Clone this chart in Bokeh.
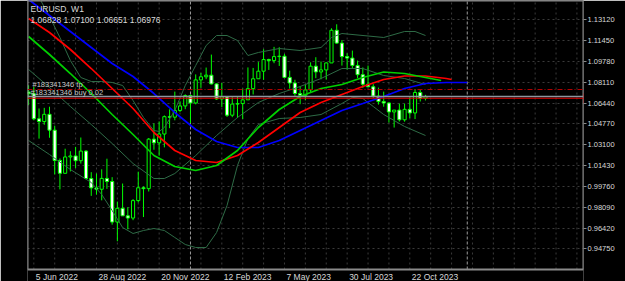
from bokeh.plotting import figure
from bokeh.models import (Range1d, FixedTicker, Span, Label,
                          ColumnDataSource, PrintfTickFormatter)
from bokeh.embed import file_html
from bokeh.resources import INLINE
from bokeh.core.properties import value

# ---- weekly EURUSD candles, week 0 = 29 May 2022 ... week 76 = 12 Nov 2023 ----
open_ = [1.0733, 1.0719, 1.0518, 1.0496, 1.0554, 1.0427, 1.0184, 1.0081, 1.0212, 1.0220,
         1.0182, 1.0259, 1.0039, 0.9964, 0.9953, 1.0040, 1.0015, 0.9690, 0.9800, 0.9740,
         0.9722, 0.9862, 0.9965, 0.9958, 1.0355, 1.0325, 1.0396, 1.0535, 1.0531, 1.0585,
         1.0621, 1.0705, 1.0645, 1.0830, 1.0855, 1.0868, 1.0798, 1.0677, 1.0694, 1.0547,
         1.0636, 1.0640, 1.0670, 1.0760, 1.0839, 1.0900, 1.0993, 1.0985, 1.1017, 1.1020,
         1.0850, 1.0805, 1.0721, 1.0707, 1.0750, 1.0940, 1.0894, 1.0910, 1.0966, 1.1228,
         1.1125, 1.1017, 1.1005, 1.0946, 1.0872, 1.0795, 1.0775, 1.0700, 1.0656, 1.0645,
         1.0573, 1.0588, 1.0510, 1.0594, 1.0565, 1.0729, 1.06828]
high = [1.0787, 1.0774, 1.0601, 1.0606, 1.0615, 1.0463, 1.0200, 1.0278, 1.0258, 1.0293,
        1.0368, 1.0267, 1.0090, 1.0079, 1.0113, 1.0198, 1.0050, 0.9854, 0.9999, 0.9809,
        0.9874, 1.0094, 0.9976, 1.0364, 1.0481, 1.0497, 1.0545, 1.0594, 1.0736, 1.0658,
        1.0714, 1.0713, 1.0874, 1.0887, 1.0929, 1.1033, 1.0804, 1.0806, 1.0694, 1.0691,
        1.0700, 1.0760, 1.0930, 1.0926, 1.0973, 1.1076, 1.1000, 1.1095, 1.1092, 1.1038,
        1.0904, 1.0831, 1.0780, 1.0790, 1.0971, 1.1012, 1.0977, 1.0970, 1.1244, 1.1276,
        1.1150, 1.1043, 1.1065, 1.0985, 1.0930, 1.0945, 1.0796, 1.0768, 1.0736, 1.0650,
        1.0588, 1.0640, 1.0640, 1.0695, 1.0756, 1.0755, 1.07100]
low = [1.0627, 1.0506, 1.0359, 1.0470, 1.0366, 1.0072, 0.9952, 1.0080, 1.0096, 1.0123,
       1.0159, 1.0034, 0.9900, 0.9910, 0.9864, 0.9956, 0.9669, 0.9536, 0.9740, 0.9632,
       0.9705, 0.9847, 0.9730, 0.9935, 1.0270, 1.0222, 1.0289, 1.0443, 1.0506, 1.0573,
       1.0595, 1.0483, 1.0634, 1.0767, 1.0836, 1.0793, 1.0669, 1.0613, 1.0533, 1.0531,
       1.0524, 1.0516, 1.0670, 1.0713, 1.0839, 1.0830, 1.0910, 1.0964, 1.0942, 1.0848,
       1.0760, 1.0702, 1.0635, 1.0666, 1.0730, 1.0844, 1.0835, 1.0833, 1.0966, 1.1120,
       1.0945, 1.0912, 1.0925, 1.0845, 1.0766, 1.0771, 1.0686, 1.0632, 1.0615, 1.0488,
       1.0448, 1.0496, 1.0495, 1.0523, 1.0516, 1.0657, 1.06651]
close = [1.0719, 1.0518, 1.0496, 1.0554, 1.0427, 1.0184, 1.0081, 1.0212, 1.0220, 1.0182,
         1.0259, 1.0039, 0.9964, 0.9953, 1.0040, 1.0015, 0.9690, 0.9800, 0.9740, 0.9722,
         0.9862, 0.9965, 0.9958, 1.0355, 1.0325, 1.0396, 1.0535, 1.0531, 1.0585, 1.0621,
         1.0705, 1.0645, 1.0830, 1.0855, 1.0868, 1.0798, 1.0677, 1.0694, 1.0547, 1.0636,
         1.0640, 1.0670, 1.0760, 1.0839, 1.0900, 1.0993, 1.0985, 1.1017, 1.1020, 1.0850,
         1.0805, 1.0721, 1.0707, 1.0750, 1.0940, 1.0894, 1.0910, 1.0966, 1.1228, 1.1125,
         1.1017, 1.1005, 1.0946, 1.0872, 1.0795, 1.0775, 1.0700, 1.0656, 1.0645, 1.0573,
         1.0588, 1.0510, 1.0594, 1.0565, 1.0729, 1.0683, 1.06976]
week = list(range(len(close)))

# ---- axis ticks ----
x_tick_weeks = [1, 13, 25, 37, 49, 61, 73]
x_tick_labels = ["5 Jun 2022", "28 Aug 2022", "20 Nov 2022", "12 Feb 2023",
                 "7 May 2023", "30 Jul 2023", "22 Oct 2023"]
y_ticks = [1.1312, 1.1145, 1.0978, 1.0811, 1.0644, 1.0477, 1.0310, 1.0143,
           0.9976, 0.9809, 0.9642, 0.9475]
grid_weeks = [1, 5, 9, 13, 17, 21, 25, 29, 33, 37, 41, 45, 49, 53, 57, 61, 65, 69,
              73, 77, 81, 85, 89, 93, 97, 101, 105]
year_sep_weeks = [31, 84]

# ---- indicator lines ----
jaw_x = [0, 4, 8, 12, 16, 20, 24, 28, 32, 36, 40, 44, 48, 52, 56, 60, 64, 68, 72, 76, 80, 84]
jaw_y = [1.1475, 1.13465, 1.12182, 1.10899, 1.09615, 1.08573, 1.07209, 1.05686, 1.04322,
         1.0336, 1.02879, 1.02879, 1.0344, 1.04242, 1.05044, 1.05846, 1.06407, 1.06969,
         1.0761, 1.08011, 1.08092, 1.08092]
teeth_x = [0, 4, 8, 12, 16, 20, 24, 28, 32, 36, 40, 44, 48, 52, 56, 60, 64, 68, 72, 76, 80, 81]
teeth_y = [1.13224, 1.12102, 1.10738, 1.09214, 1.0761, 1.06006, 1.04082, 1.02638, 1.01836,
           1.01676, 1.02237, 1.0328, 1.04483, 1.05686, 1.06488, 1.07129, 1.07771, 1.08332,
           1.08613, 1.08613, 1.08412, 1.08332]
lips_x = [0, 4, 8, 12, 16, 20, 24, 28, 32, 36, 40, 44, 48, 52, 56, 60, 64, 68, 72, 76, 79]
lips_y = [1.11781, 1.10337, 1.08813, 1.07209, 1.05525, 1.03921, 1.02237, 1.01355, 1.01034,
          1.01435, 1.02638, 1.04483, 1.05926, 1.06969, 1.0761, 1.07931, 1.08493, 1.08934,
          1.08813, 1.08493, 1.08252]
bb_up_x = [0, 2, 4, 6, 8, 10, 12, 14, 16, 18, 20, 22, 24, 25, 26, 28, 30, 32, 34, 36, 38,
           40, 42, 44, 48, 52, 56, 58, 60, 68, 72, 74, 76]
bb_up_y = [1.16432, 1.14909, 1.13385, 1.11701, 1.09856, 1.08493, 1.08172, 1.08172, 1.08092,
           1.07851, 1.06648, 1.05285, 1.04242, 1.04162, 1.04483, 1.05846, 1.07851, 1.09455,
           1.11059, 1.11861, 1.11861, 1.1146, 1.10257, 1.10498, 1.10818, 1.10658, 1.10899,
           1.11701, 1.12021, 1.11701, 1.12182, 1.12182, 1.11861]
bb_mid_x = [0, 4, 8, 12, 16, 20, 24, 26, 28, 32, 36, 40, 44, 48, 52, 56, 60, 64, 68, 72, 76]
bb_mid_y = [1.09134, 1.07691, 1.06167, 1.04723, 1.03199, 1.01595, 1.00392, 1.00392, 1.00793,
            1.02237, 1.03841, 1.05285, 1.06488, 1.07209, 1.07771, 1.08412, 1.09214, 1.09214,
            1.08653, 1.08412, 1.07931]
bb_lo_x = [0, 4, 8, 12, 14, 16, 18, 20, 22, 24, 26, 28, 30, 32, 34, 36, 38, 40, 42, 44, 48,
           52, 56, 60, 62, 64, 66, 68, 72, 76]
bb_lo_y = [1.0344, 1.02317, 1.01114, 1.00072, 0.99109, 0.97826, 0.96463, 0.95981, 0.96222,
           0.96382, 0.96222, 0.95661, 0.95099, 0.94859, 0.94859, 0.96062, 0.98227, 1.01435,
           1.036, 1.04723, 1.05204, 1.05285, 1.05525, 1.06407, 1.06889, 1.06808, 1.06167,
           1.05525, 1.04563, 1.03841]

# ---- trade levels ----
bid_price = 1.06976
order_price = 1.06828
tp_price = 1.0753
order_id = "#183341346"
header_symbol = "EURUSD, W1"

# chart window: price panel bottom edge (border line) and canvas bottom
X0, X1 = -0.21, 106.26
Y_TOP = 1.14668
Y_PANEL_BOTTOM = 0.93094
Y_CANVAS_BOTTOM = 0.92132
FONT = "Liberation Sans"
TXT = "#d9d9d9"
GRID = "#3a3a3a"
BORDER = "#8a8a8a"

p = figure(width=625, height=281, x_range=Range1d(X0, X1),
           y_range=Range1d(Y_CANVAS_BOTTOM, Y_TOP),
           output_backend="svg", toolbar_location=None,
           x_axis_location=None, y_axis_location="right",
           min_border_left=27, min_border_right=42, min_border_top=0, min_border_bottom=0,
           background_fill_color="black", border_fill_color="black",
           outline_line_color=None)

ax = p.yaxis[0]
ax.ticker = FixedTicker(ticks=y_ticks)
ax.formatter = PrintfTickFormatter(format="%.5f")
ax.major_label_text_color = TXT
ax.major_label_text_font = FONT
ax.major_label_text_font_size = "7.5px"
ax.axis_line_color = None
ax.major_tick_line_color = BORDER
ax.major_tick_out = 3
ax.major_tick_in = 0
ax.minor_tick_out = 0
ax.minor_tick_in = 0
ax.major_label_standoff = 1

p.ygrid.grid_line_color = GRID
p.ygrid.grid_line_dash = "2 3"
p.xgrid.visible = False

# vertical grid and year separators, stopping at the panel bottom
p.segment(x0=grid_weeks, y0=Y_PANEL_BOTTOM, x1=grid_weeks, y1=Y_TOP,
          line_color=GRID, line_dash="2 3", line_width=1)
p.segment(x0=year_sep_weeks, y0=Y_PANEL_BOTTOM, x1=year_sep_weeks, y1=Y_TOP,
          line_color="#9a9a9a", line_dash="3 2", line_width=1)

# candles
body_top = [max(o, c) for o, c in zip(open_, close)]
body_bot = [min(o, c) for o, c in zip(open_, close)]
fills = ["black" if c >= o else "white" for o, c in zip(open_, close)]
src = ColumnDataSource(dict(week=week, high=high, low=low, top=body_top,
                            bottom=body_bot, fill=fills))
p.segment(x0="week", y0="low", x1="week", y1="high", source=src,
          line_color="#00ff00", line_width=1)
p.vbar(x="week", width=0.6, top="top", bottom="bottom", source=src,
       fill_color="fill", line_color="#00ff00", line_width=1)

# Bollinger bands
BB = "#2e6b46"
p.line(bb_up_x, bb_up_y, line_color=BB, line_width=1)
p.line(bb_mid_x, bb_mid_y, line_color=BB, line_width=1)
p.line(bb_lo_x, bb_lo_y, line_color=BB, line_width=1)

# shifted averages
p.line(jaw_x, jaw_y, line_color="#0000ff", line_width=1.7)
p.line(teeth_x, teeth_y, line_color="#ff0000", line_width=1.7)
p.line(lips_x, lips_y, line_color="#00d000", line_width=1.7)

# trade levels
p.add_layout(Span(location=tp_price, dimension="width", line_color="#b00000",
                  line_dash="5 2 1 2", line_width=1))
p.add_layout(Span(location=bid_price, dimension="width", line_color="#8c96a0",
                  line_width=1.5))
p.add_layout(Span(location=order_price, dimension="width", line_color="#e00000",
                  line_width=1))

# panel border (left, bottom, right, top)
p.segment(x0=[X0, X0, X1, X0], y0=[Y_PANEL_BOTTOM, Y_PANEL_BOTTOM, Y_PANEL_BOTTOM, Y_TOP],
          x1=[X0, X1, X1, X1], y1=[Y_TOP, Y_PANEL_BOTTOM, Y_TOP, Y_TOP],
          line_color=BORDER, line_width=2)

p.add_layout(Label(x=X0, y=tp_price, x_offset=5, y_offset=5, text=order_id + " tp",
                   text_font=FONT, text_font_size="7.5px", text_color="#c8c8c8",
                   text_baseline="middle"))
p.add_layout(Label(x=X0, y=order_price, x_offset=3, y_offset=6, text=order_id + " buy  0.02",
                   text_font=FONT, text_font_size="7.5px", text_color="#c8c8c8",
                   text_baseline="middle"))

# header
p.add_layout(Label(x=X0, y=Y_TOP, x_offset=3, y_offset=-8.5, text=header_symbol,
                   text_font=FONT, text_font_size="8.5px", text_color=TXT,
                   text_baseline="middle"))
p.add_layout(Label(x=X0, y=Y_TOP, x_offset=3, y_offset=-19.5,
                   text=" ".join("%.5f" % v for v in (open_[-1], high[-1], low[-1], close[-1])),
                   text_font=FONT, text_font_size="8.5px", text_color=TXT,
                   text_baseline="middle"))

# price box
p.add_layout(Label(x=X1, y=order_price, x_offset=0, text="%.5f" % order_price,
                   text_font=FONT, text_font_size="8.5px", text_color="white",
                   text_baseline="middle", text_align="left",
                   background_fill_color="#ff0000", padding=2))

# date labels, left aligned at their week like the terminal
lab_src = ColumnDataSource(dict(wk=x_tick_weeks, text=x_tick_labels))
p.text(x="wk", y=Y_PANEL_BOTTOM, text="text", source=lab_src, x_offset=2, y_offset=2.5,
       text_align="left", text_baseline="top", text_color=TXT,
       text_font=value(FONT), text_font_size="8.5px")

open("out.html", "w").write(file_html(p, INLINE))
